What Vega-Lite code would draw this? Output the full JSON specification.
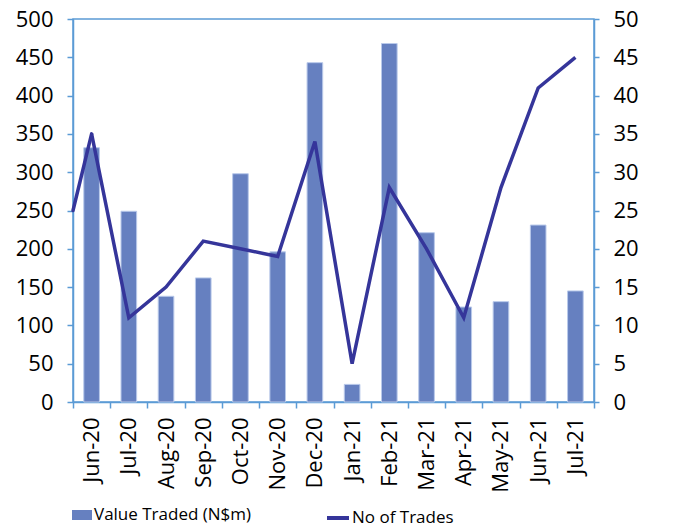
{
  "$schema": "https://vega.github.io/schema/vega-lite/v6.json",
  "width": 521,
  "height": 383,
  "autosize": {"type": "none"},
  "padding": {"left": 73, "top": 19, "right": 84, "bottom": 127},
  "config": {
    "font": "Open Sans",
    "view": {"stroke": "#5b9bd5", "strokeWidth": 1.5},
    "axis": {
      "domainColor": "#5b9bd5", "domainWidth": 1.5,
      "tickColor": "#5b9bd5", "tickWidth": 1.5,
      "labelFont": "Open Sans", "labelFontSize": 22, "labelColor": "#000000",
      "grid": false, "title": null
    },
    "legend": {
      "labelFont": "Open Sans", "labelFontSize": 17, "labelColor": "#000000",
      "title": null, "padding": 0, "offset": 0
    }
  },
  "data": {
    "values": [
      {"month": "Jun-20", "value": 332, "trades": 35, "edge": 25},
      {"month": "Jul-20", "value": 249, "trades": 11},
      {"month": "Aug-20", "value": 138, "trades": 15},
      {"month": "Sep-20", "value": 162, "trades": 21},
      {"month": "Oct-20", "value": 298, "trades": 20},
      {"month": "Nov-20", "value": 196, "trades": 19},
      {"month": "Dec-20", "value": 443, "trades": 34},
      {"month": "Jan-21", "value": 23, "trades": 5},
      {"month": "Feb-21", "value": 468, "trades": 28},
      {"month": "Mar-21", "value": 221, "trades": 20},
      {"month": "Apr-21", "value": 124, "trades": 11},
      {"month": "May-21", "value": 131, "trades": 28},
      {"month": "Jun-21", "value": 231, "trades": 41},
      {"month": "Jul-21", "value": 145, "trades": 45}
    ]
  },
  "layer": [
    {
      "mark": {"type": "bar", "width": {"band": 0.42}, "stroke": "#b9c9ea", "strokeWidth": 1},
      "encoding": {
        "x": {
          "field": "month", "type": "nominal", "sort": null,
          "scale": {"paddingInner": 0, "paddingOuter": 0},
          "axis": {"labelAngle": -90, "labelAlign": "right", "labelBaseline": "middle", "tickBand": "extent", "tickSize": 6, "labelPadding": 9}
        },
        "y": {
          "field": "value", "type": "quantitative",
          "scale": {"domain": [0, 500], "nice": false},
          "axis": {"orient": "left", "values": [0, 50, 100, 150, 200, 250, 300, 350, 400, 450, 500], "tickSize": 6, "labelPadding": 14}
        },
        "fill": {
          "datum": "Value Traded (N$m)",
          "scale": {"range": ["#6680c0"]},
          "legend": {"orient": "none", "legendX": -1, "legendY": 486, "symbolType": "M-1,-0.5H1V0.5H-1Z", "symbolSize": 400, "symbolStrokeWidth": 0, "labelOffset": 2}
        }
      }
    },
    {
      "layer": [
        {
          "mark": {"type": "line", "strokeWidth": 3.5},
          "encoding": {
            "x": {"field": "month", "type": "nominal", "sort": null},
            "y": {
              "field": "trades", "type": "quantitative",
              "scale": {"domain": [0, 50], "nice": false},
              "axis": {"orient": "right", "values": [0, 5, 10, 15, 20, 25, 30, 35, 40, 45, 50], "tickSize": 5, "labelPadding": 14}
            },
            "stroke": {
              "datum": "No of Trades",
              "scale": {"range": ["#35359a"]},
              "legend": {"orient": "none", "legendX": 252, "legendY": 486, "symbolType": "stroke", "symbolSize": 484, "symbolStrokeWidth": 4, "labelOffset": 1}
            }
          }
        },
        {
          "transform": [{"filter": "isValid(datum.edge)"}],
          "mark": {"type": "rule", "strokeWidth": 3.5, "color": "#35359a", "strokeCap": "round"},
          "encoding": {
            "x": {"field": "month", "type": "nominal", "sort": null, "bandPosition": 0},
            "x2": {"field": "month", "bandPosition": 0.5},
            "y": {
              "field": "edge", "type": "quantitative",
              "axis": {"orient": "right", "values": [0, 5, 10, 15, 20, 25, 30, 35, 40, 45, 50], "tickSize": 5, "labelPadding": 14}
            },
            "y2": {"field": "trades"}
          }
        }
      ]
    }
  ],
  "resolve": {"scale": {"y": "independent", "fill": "independent", "stroke": "independent"}}
}
